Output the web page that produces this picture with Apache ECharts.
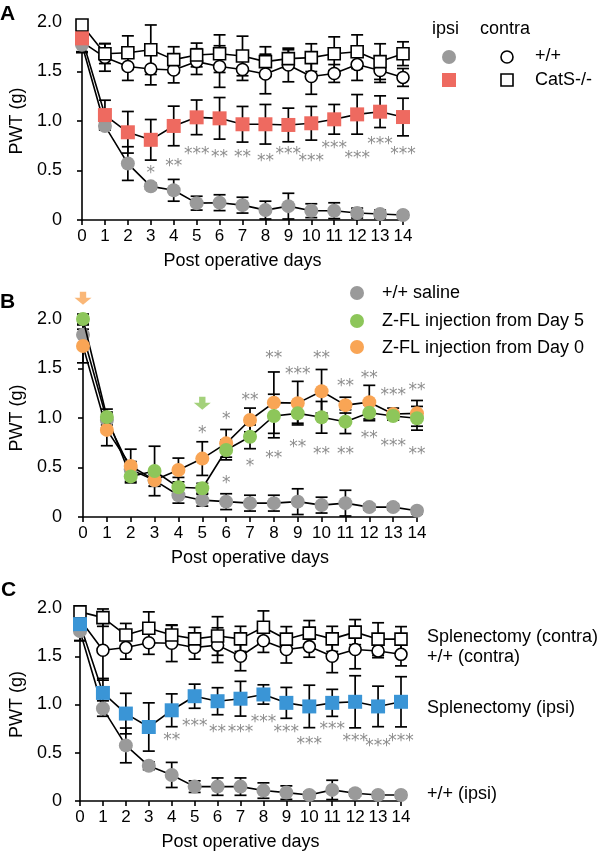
<!DOCTYPE html>
<html><head><meta charset="utf-8">
<script src="https://cdn.jsdelivr.net/npm/echarts/dist/echarts.min.js"></script>
<style>html,body{margin:0;padding:0;background:#fff}#c{width:600px;height:852px}</style>
</head><body><div id="c"></div>
<script>
// ---------- data ----------
var days = [0,1,2,3,4,5,6,7,8,9,10,11,12,13,14];
var yTicks = [0, 0.5, 1.0, 1.5, 2.0];

// Panel A
var aIpsiWT      = [1.77,0.95,0.57,0.34,0.30,0.17,0.175,0.15,0.10,0.14,0.094,0.094,0.07,0.06,0.05];
var aIpsiWTErr   = [0.08,0.04,0.17,0.03,0.11,0.07,0.08,0.08,0.09,0.13,0.07,0.08,0.05,0.04,0.03];
var aIpsiKO      = [1.835,1.06,0.886,0.81,0.95,1.037,1.027,0.967,0.967,0.96,0.977,1.017,1.067,1.094,1.04];
var aIpsiKOErr   = [0.05,0.15,0.21,0.205,0.2,0.175,0.21,0.18,0.2,0.17,0.17,0.15,0.2,0.16,0.19];
var aContraWT    = [1.8,1.643,1.55,1.525,1.515,1.6,1.55,1.52,1.475,1.566,1.45,1.48,1.57,1.51,1.44];
var aContraWTErr = [0.1,0.14,0.14,0.16,0.13,0.13,0.21,0.11,0.2,0.17,0.18,0.09,0.16,0.12,0.09];
var aContraKO    = [1.97,1.68,1.69,1.72,1.62,1.667,1.68,1.657,1.6,1.63,1.64,1.68,1.70,1.6,1.68];
var aContraKOErr = [0.03,0.1,0.17,0.25,0.13,0.12,0.19,0.2,0.15,0.09,0.14,0.17,0.17,0.18,0.12];
var starsA = [[3,0.52,'*'],[4,0.59,'**'],[5,0.71,'***'],[6,0.68,'**'],[7,0.68,'**'],[8,0.64,'**'],
              [9,0.71,'***'],[10,0.64,'***'],[11,0.775,'***'],[12,0.67,'***'],[13,0.815,'***'],[14,0.715,'***']];

// Panel B
var bSaline    = [1.84,0.98,0.48,0.37,0.22,0.17,0.155,0.14,0.14,0.155,0.12,0.14,0.10,0.10,0.063];
var bSalineErr = [0.1,0.08,0.08,0.06,0.08,0.06,0.08,0.08,0.08,0.13,0.08,0.13,0.03,0.03,0.03];
var bDay5      = [2.0,1.01,0.41,0.465,0.30,0.29,0.677,0.81,1.02,1.047,1.007,0.963,1.053,1.02,0.997];
var bDay5Err   = [0.05,0.08,0.05,0.25,0.1,0.05,0.1,0.12,0.22,0.1,0.16,0.12,0.08,0.04,0.12];
var bDay0      = [1.727,0.88,0.515,0.373,0.475,0.59,0.744,0.98,1.155,1.15,1.27,1.13,1.16,1.04,1.047];
var bDay0Err   = [0.17,0.16,0.17,0.06,0.12,0.17,0.14,0.12,0.31,0.22,0.22,0.08,0.17,0.06,0.13];
var starsBUp   = [[5,0.895,'*'],[6,1.03,'*'],[7,1.23,'**'],[8,1.646,'**'],[9,1.49,'***'],[10,1.646,'**'],
                  [11,1.367,'**'],[12,1.45,'**'],[13,1.28,'***'],[14,1.33,'**']];
var starsBLow  = [[6,0.39,'*'],[7,0.56,'*'],[8,0.643,'**'],[9,0.75,'**'],[10,0.677,'**'],
                  [11,0.677,'**'],[12,0.845,'**'],[13,0.76,'***'],[14,0.677,'**']];
var arrowsB    = [[0,2.21],[5,1.15]];

// Panel C
var cIpsiWT       = [1.76,0.958,0.576,0.365,0.27,0.149,0.149,0.149,0.108,0.087,0.0625,0.115,0.08,0.0625,0.0625];
var cIpsiWTErr    = [0.1,0.08,0.18,0.04,0.13,0.06,0.09,0.09,0.08,0.07,0.03,0.1,0.03,0.03,0.03];
var cIpsiSpx      = [1.833,1.12,0.906,0.767,0.94,1.086,1.034,1.06,1.104,1.017,0.98,1.017,1.028,0.98,1.028];
var cIpsiSpxErr   = [0.17,0.15,0.21,0.25,0.17,0.125,0.14,0.18,0.1,0.16,0.22,0.14,0.27,0.21,0.26];
var cContraWT     = [1.88,1.5625,1.59,1.64,1.635,1.59,1.615,1.50,1.66,1.57,1.60,1.50,1.57,1.555,1.52];
var cContraWTErr  = [0.05,0.31,0.12,0.12,0.19,0.12,0.18,0.15,0.12,0.14,0.11,0.17,0.2,0.07,0.12];
var cContraSpx    = [1.96,1.90,1.72,1.79,1.72,1.68,1.71,1.68,1.8,1.677,1.74,1.68,1.75,1.677,1.677];
var cContraSpxErr = [0.03,0.09,0.12,0.17,0.1,0.12,0.2,0.13,0.17,0.13,0.13,0.13,0.13,0.17,0.13];
var starsC = [[4,0.677,'**'],[5,0.826,'***'],[6,0.757,'**'],[7,0.757,'***'],[8,0.861,'***'],[9,0.76,'***'],
              [10,0.64,'***'],[11,0.79,'***'],[12,0.67,'***'],[13,0.62,'***'],[14,0.67,'***']];

// ---------- style ----------
var FONT = '"Liberation Sans", Arial, Helvetica, sans-serif';
var GRAY = '#9a9a9a', RED = '#ee6a60', GREEN = '#8dc65a', ORANGE = '#f9a555', BLUE = '#3a95d6';

var grids = [
  {left:79, top:22, width:324, height:198},
  {left:78, top:319, width:339, height:198},
  {left:78, top:608, width:323, height:193}
];
var yOffsets = [14, 15, 12];

function xAx(gi){
  return {type:'value', gridIndex:gi, min:0, max:14, interval:1,
    axisLine:{show:true, onZero:false, lineStyle:{color:'#000', width:1.6}},
    axisTick:{show:true, length:5, lineStyle:{color:'#000', width:1.6}},
    axisLabel:{color:'#000', fontSize:17, fontFamily:FONT, margin:8},
    splitLine:{show:false},
    name:'Post operative days', nameLocation:'middle', nameGap:32,
    nameTextStyle:{color:'#000', fontSize:18, fontFamily:FONT}};
}
function yAx(gi){
  return {type:'value', gridIndex:gi, min:0, max:2, interval:0.5, offset:yOffsets[gi],
    axisLine:{show:true, lineStyle:{color:'#000', width:1.6}},
    axisTick:{show:true, length:5, lineStyle:{color:'#000', width:1.6}},
    axisLabel:{color:'#000', fontSize:18, fontFamily:FONT, margin:6,
      formatter:function(v){ return v === 0 ? '0' : v.toFixed(1); }},
    splitLine:{show:false},
    name:'PWT (g)', nameLocation:'middle', nameGap:42,
    nameTextStyle:{color:'#000', fontSize:18, fontFamily:FONT}};
}
function pts(arr){ return days.map(function(d,i){ return [d, arr[i]]; }); }
function errS(gi, means, errs, z){
  return {type:'custom', xAxisIndex:gi, yAxisIndex:gi, z:z, silent:true, animation:false, clip:false,
    renderItem:function(params, api){
      var x = api.value(0), m = api.value(1), e = api.value(2);
      var t = api.coord([x, m + e]), b = api.coord([x, m - e]);
      var hw = 6, st = {stroke:'#000', lineWidth:1.7};
      return {type:'group', children:[
        {type:'line', shape:{x1:t[0], y1:t[1], x2:b[0], y2:b[1]}, style:st},
        {type:'line', shape:{x1:t[0]-hw, y1:t[1], x2:t[0]+hw, y2:t[1]}, style:st},
        {type:'line', shape:{x1:b[0]-hw, y1:b[1], x2:b[0]+hw, y2:b[1]}, style:st}
      ]};
    },
    data: days.map(function(d,i){ return [d, means[i], errs[i]]; })};
}
function lineS(gi, arr, sym, size, fill, open, z){
  return {type:'line', xAxisIndex:gi, yAxisIndex:gi, data:pts(arr), symbol:sym, symbolSize:size,
    showSymbol:true, clip:false, z:z, animation:false, silent:true,
    lineStyle:{color:'#000', width:1.6},
    itemStyle:{color:fill, borderColor: open ? '#000' : fill, borderWidth: open ? 1.6 : 0, opacity:1}};
}
function starS(gi, stars){
  return {type:'scatter', xAxisIndex:gi, yAxisIndex:gi, z:6, silent:true, animation:false, clip:false,
    symbolSize:1, itemStyle:{color:'rgba(0,0,0,0)'},
    label:{show:true, position:'inside', color:'#707070', fontSize:17, fontFamily:'"DejaVu Sans", sans-serif',
      offset:[0,5], formatter:function(p){ return p.data[2]; }},
    data: stars.map(function(s){ return [s[0], s[1], s[2]]; })};
}

var series = [
  // Panel A
  errS(0, aContraWT, aContraWTErr, 2), errS(0, aContraKO, aContraKOErr, 2),
  errS(0, aIpsiWT, aIpsiWTErr, 2), errS(0, aIpsiKO, aIpsiKOErr, 2),
  lineS(0, aContraWT, 'circle', 12, '#fff', true, 3),
  lineS(0, aContraKO, 'rect', 12, '#fff', true, 3),
  lineS(0, aIpsiWT, 'circle', 14, GRAY, false, 4),
  lineS(0, aIpsiKO, 'rect', 14, RED, false, 4),
  starS(0, starsA),
  // Panel B
  errS(1, bSaline, bSalineErr, 2), errS(1, bDay0, bDay0Err, 2), errS(1, bDay5, bDay5Err, 2),
  lineS(1, bSaline, 'circle', 14, GRAY, false, 3),
  lineS(1, bDay0, 'circle', 14, ORANGE, false, 4),
  lineS(1, bDay5, 'circle', 14, GREEN, false, 4),
  starS(1, starsBUp), starS(1, starsBLow),
  {type:'scatter', xAxisIndex:1, yAxisIndex:1, z:6, silent:true, animation:false, clip:false,
   symbol:'path://M5,0 L11,0 L11,6 L16,6 L8,13 L0,6 L5,6 Z', symbolSize:[17,13],
   data:[{value:arrowsB[0], itemStyle:{color:ORANGE}}, {value:arrowsB[1], itemStyle:{color:GREEN}}]},
  // Panel C
  errS(2, cContraWT, cContraWTErr, 2), errS(2, cContraSpx, cContraSpxErr, 2),
  errS(2, cIpsiWT, cIpsiWTErr, 2), errS(2, cIpsiSpx, cIpsiSpxErr, 2),
  lineS(2, cContraWT, 'circle', 12, '#fff', true, 3),
  lineS(2, cContraSpx, 'rect', 12, '#fff', true, 3),
  lineS(2, cIpsiWT, 'circle', 14, GRAY, false, 4),
  lineS(2, cIpsiSpx, 'rect', 14, BLUE, false, 4),
  starS(2, starsC)
];

function txt(x, y, s, size, bold){
  return {type:'text', x:x, y:y, silent:true,
    style:{text:s, fill:'#000', font:(bold?'bold ':'') + size + 'px ' + FONT,
      align:'left', verticalAlign:'middle', textAlign:'left', textVerticalAlign:'middle'}};
}
var graphics = [
  txt(0, 14, 'A', 21, true), txt(0, 302, 'B', 21, true), txt(1, 590, 'C', 21, true),
  // legend A
  txt(432, 29, 'ipsi', 18), txt(480, 29, 'contra', 18),
  {type:'circle', shape:{cx:449, cy:57, r:7}, style:{fill:GRAY}, silent:true},
  {type:'rect', shape:{x:442, y:73, width:14, height:14}, style:{fill:RED}, silent:true},
  {type:'circle', shape:{cx:507, cy:57, r:6}, style:{fill:'#fff', stroke:'#000', lineWidth:1.6}, silent:true},
  {type:'rect', shape:{x:501, y:74, width:12, height:12}, style:{fill:'#fff', stroke:'#000', lineWidth:1.6}, silent:true},
  txt(535, 56, '+/+', 18), txt(535, 80, 'CatS-/-', 18),
  // legend B
  {type:'circle', shape:{cx:357, cy:293, r:7}, style:{fill:GRAY}, silent:true},
  {type:'circle', shape:{cx:357, cy:321, r:7}, style:{fill:GREEN}, silent:true},
  {type:'circle', shape:{cx:357, cy:347, r:7}, style:{fill:ORANGE}, silent:true},
  txt(382, 293, '+/+ saline', 18), txt(382, 321, 'Z-FL injection from Day 5', 18),
  txt(382, 348, 'Z-FL injection from Day 0', 18),
  // labels C
  txt(427, 637, 'Splenectomy (contra)', 18), txt(427, 657, '+/+ (contra)', 18),
  txt(427, 708, 'Splenectomy (ipsi)', 18), txt(427, 794, '+/+ (ipsi)', 18)
];

var chart = echarts.init(document.getElementById('c'), null, {renderer:'canvas'});
chart.setOption({
  animation:false,
  backgroundColor:'#fff',
  grid:grids,
  xAxis:[xAx(0), xAx(1), xAx(2)],
  yAxis:[yAx(0), yAx(1), yAx(2)],
  series:series,
  graphic:graphics
});
</script></body></html>
